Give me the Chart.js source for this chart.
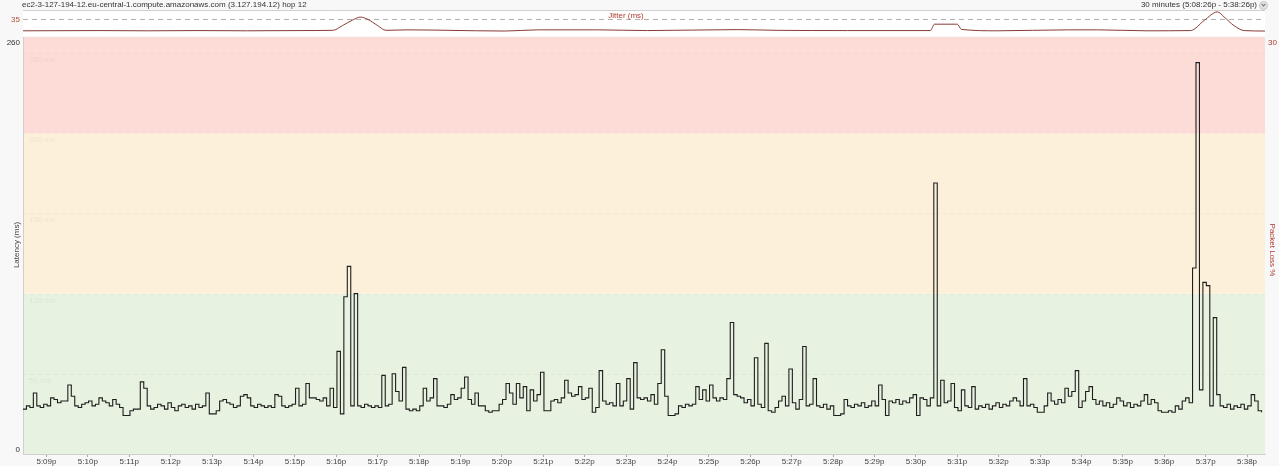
<!DOCTYPE html>
<html>
<head>
<meta charset="utf-8">
<script src="https://cdn.jsdelivr.net/npm/chart.js@4.4.1/dist/chart.umd.min.js"></script>
<style>
    body {
        margin: 0;
        background: #f8f8f8;
        font-family: "Liberation Sans", Arial, sans-serif;
    }
    #wrap {
        position: relative;
        width: 1279px;
        height: 466px;
    }
    #mainChart {
        position: absolute;
        left: 0;
        top: 0;
    }
    #jitterChart {
        position: absolute;
        left: 0;
        top: 10px;
    }
    .txt {
        position: absolute;
        font-size: 8px;
        color: #333;
        white-space: nowrap;
    }
    #hostTitle {
        left: 22px;
        top: 0px;
    }
    #rangeTitle {
        right: 22px;
        top: 0px;
    }
    #jitterTitle {
        left: 626px;
        top: 11px;
        transform: translateX(-50%);
        color: #b23a30;
    }
    #rangeIcon {
        position: absolute;
        left: 1259px;
        top: 1px;
        width: 7px;
        height: 7px;
        border-radius: 50%;
        background: #e2e2e2;
        border: 1px solid #c8c8c8;
    }
    #rangeIcon:after {
        content: "";
        position: absolute;
        left: 2px;
        top: 1px;
        width: 2px;
        height: 2px;
        border-right: 1px solid #666;
        border-bottom: 1px solid #666;
        transform: rotate(45deg);
    }
</style>
</head>
<body>
<div id="wrap">
    <canvas id="mainChart" width="1279" height="466"></canvas>
    <canvas id="jitterChart" width="1279" height="26"></canvas>
    <div class="txt" id="hostTitle">ec2-3-127-194-12.eu-central-1.compute.amazonaws.com (3.127.194.12) hop 12</div>
    <div class="txt" id="rangeTitle">30 minutes (5:08:26p - 5:38:26p)</div>
    <div id="rangeIcon"></div>
    <div class="txt" id="jitterTitle">Jitter (ms)</div>
</div>

<script>
// one latency sample every 5 seconds, 5:08:26p -> 5:38:26p
let sampleSeconds = 5;
let latencyMs = [
    28, 30, 29, 38, 30, 29, 31, 30, 35, 34, 32, 33,
    33, 43, 36, 30, 29, 31, 32, 33, 30, 31, 35, 33,
    32, 30, 34, 31, 29, 24, 24, 27, 28, 28, 45, 41,
    30, 28, 29, 31, 30, 28, 32, 29, 27, 30, 31, 29,
    30, 28, 31, 29, 30, 38, 25, 25, 27, 33, 34, 32,
    31, 29, 30, 36, 37, 35, 30, 29, 31, 30, 29, 30,
    29, 37, 36, 30, 29, 30, 31, 41, 30, 31, 44, 35,
    35, 34, 33, 35, 30, 41, 29, 64, 25, 98, 117, 30,
    100, 30, 29, 31, 30, 29, 30, 29, 49, 30, 31, 50,
    39, 33, 54, 28, 27, 28, 27, 30, 41, 33, 35, 47,
    30, 30, 29, 31, 37, 34, 35, 41, 48, 34, 31, 38,
    30, 30, 27, 26, 27, 27, 31, 34, 44, 38, 31, 44,
    35, 42, 27, 40, 33, 37, 51, 27, 27, 33, 34, 32,
    35, 46, 38, 36, 37, 42, 34, 35, 41, 26, 29, 52,
    33, 31, 32, 30, 44, 30, 33, 47, 28, 57, 35, 34,
    35, 33, 37, 31, 44, 65, 36, 24, 24, 25, 30, 29,
    31, 30, 31, 42, 34, 40, 33, 43, 35, 33, 35, 34,
    47, 82, 37, 36, 35, 32, 34, 30, 60, 31, 29, 69,
    27, 26, 29, 33, 36, 30, 53, 32, 28, 34, 67, 30,
    31, 47, 30, 29, 31, 28, 30, 24, 24, 25, 34, 30,
    29, 31, 30, 32, 29, 30, 33, 30, 43, 34, 24, 33,
    32, 34, 31, 33, 32, 35, 37, 24, 35, 34, 30, 35,
    169, 30, 46, 32, 33, 44, 29, 27, 40, 30, 29, 42,
    28, 30, 29, 31, 28, 30, 32, 29, 31, 30, 33, 35,
    33, 30, 47, 30, 31, 29, 26, 26, 30, 38, 33, 31,
    34, 32, 41, 36, 39, 52, 29, 33, 39, 42, 34, 31,
    33, 30, 32, 29, 31, 35, 33, 30, 32, 29, 31, 30,
    33, 37, 31, 34, 32, 27, 26, 26, 27, 26, 30, 28,
    33, 35, 32, 116, 244, 40, 107, 105, 30, 85, 37, 30,
    29, 31, 28, 30, 29, 31, 28, 30, 37, 33, 27, 26
];

// jitter curve, seconds from start and ms
let jitterSeconds = [0, 110, 180, 255, 325, 400, 449, 463, 478, 489, 500, 514, 526, 558, 616, 699, 746, 833, 905, 1036, 1093, 1195, 1315, 1321, 1354, 1360, 1412, 1514, 1557, 1629, 1692, 1712, 1731, 1741, 1755, 1770, 1800];
let jitterMs = [11, 11.5, 11, 11.5, 11, 11.5, 12, 22, 34, 40, 35, 22, 12, 13, 12, 10.5, 13, 13, 11.5, 13.5, 12, 11.5, 11.5, 25, 25, 14, 11, 13, 13, 11, 11.5, 33, 51, 40, 22, 11.5, 10.5];
let jitterMarker = 35;

let xTickLabels = ["5:09p", "5:10p", "5:11p", "5:12p", "5:13p", "5:14p", "5:15p", "5:16p", "5:17p", "5:18p",
    "5:19p", "5:20p", "5:21p", "5:22p", "5:23p", "5:24p", "5:25p", "5:26p", "5:27p", "5:28p",
    "5:29p", "5:30p", "5:31p", "5:32p", "5:33p", "5:34p", "5:35p", "5:36p", "5:37p", "5:38p"];
let firstTickSecond = 34;

let latencyMax = 260;
let lossMax = 30;
let bandLimits = [0, 100, 200, 260];
let bandColors = ["#e8f2e0", "#fdf0da", "#fddcd7"];
let gridValues = [50, 100, 150, 200, 250];
let gridLabels = ["50 ms", "100 ms", "150 ms", "200 ms", "250 ms"];

Chart.defaults.font.family = "'Liberation Sans', Arial, sans-serif";
Chart.defaults.font.size = 8;
Chart.defaults.animation = false;

let smallFont = "8px 'Liberation Sans', Arial, sans-serif";

function buildLatencyPoints() {
    let points = [];
    for (let i = 0; i < latencyMs.length; i++) {
        points.push({ x: i * sampleSeconds, y: latencyMs[i] });
    }
    return points;
}

function buildJitterPoints() {
    let points = [];
    for (let i = 0; i < jitterMs.length; i++) {
        points.push({ x: jitterSeconds[i], y: jitterMs[i] });
    }
    return points;
}

function buildTickValues() {
    let ticks = [];
    for (let i = 0; i < xTickLabels.length; i++) {
        ticks.push({ value: firstTickSecond + i * 60 });
    }
    return ticks;
}

function drawRotated(ctx, text, x, y, angle, color) {
    ctx.save();
    ctx.font = smallFont;
    ctx.textAlign = "center";
    ctx.textBaseline = "middle";
    ctx.fillStyle = color;
    ctx.translate(x, y);
    ctx.rotate(angle);
    ctx.fillText(text, 0, 0);
    ctx.restore();
}

let bandsPlugin = {
    id: "bands",
    beforeDraw: function(chart) {
        let ctx = chart.ctx;
        let area = chart.chartArea;
        let y = chart.scales.y;

        ctx.save();
        for (let i = 0; i < bandColors.length; i++) {
            let top = y.getPixelForValue(bandLimits[i + 1]);
            let bottom = y.getPixelForValue(bandLimits[i]);
            ctx.fillStyle = bandColors[i];
            ctx.fillRect(area.left, top, area.right - area.left, bottom - top);
        }

        ctx.setLineDash([4, 4]);
        ctx.strokeStyle = "rgba(0,0,0,0.035)";
        ctx.lineWidth = 1;
        ctx.fillStyle = "rgba(0,0,0,0.06)";
        ctx.font = smallFont;
        ctx.textBaseline = "top";
        for (let i = 0; i < gridValues.length; i++) {
            let py = Math.round(y.getPixelForValue(gridValues[i])) + 0.5;
            ctx.beginPath();
            ctx.moveTo(area.left, py);
            ctx.lineTo(area.right, py);
            ctx.stroke();
            ctx.fillText(gridLabels[i], area.left + 6, py + 2);
        }
        ctx.restore();
    },
    afterDraw: function(chart) {
        let ctx = chart.ctx;
        let area = chart.chartArea;
        let y = chart.scales.y;
        let y1 = chart.scales.y1;

        ctx.save();
        ctx.font = smallFont;
        ctx.textBaseline = "middle";
        ctx.textAlign = "right";
        ctx.fillStyle = "#333";
        ctx.fillText(String(latencyMax), area.left - 3, y.getPixelForValue(latencyMax) + 6);
        ctx.fillText("0", area.left - 3, y.getPixelForValue(0) - 4);
        ctx.textAlign = "left";
        ctx.fillStyle = "#b23a30";
        ctx.fillText(String(lossMax), area.right + 3, y1.getPixelForValue(lossMax) + 6);
        ctx.restore();

        drawRotated(ctx, "Latency (ms)", 17, 245, -Math.PI / 2, "#444");
        drawRotated(ctx, "Packet Loss %", 1272, 250, Math.PI / 2, "#b23a30");
    }
};

let panelPlugin = {
    id: "panel",
    beforeDraw: function(chart) {
        let ctx = chart.ctx;
        let area = chart.chartArea;
        ctx.save();
        ctx.fillStyle = "#ffffff";
        ctx.fillRect(area.left, area.top, area.right - area.left, area.bottom - area.top);
        ctx.strokeStyle = "#d0d0d0";
        ctx.lineWidth = 1;
        ctx.beginPath();
        ctx.moveTo(area.left, area.top + 0.5);
        ctx.lineTo(area.right, area.top + 0.5);
        ctx.stroke();
        ctx.restore();
    },
    afterDraw: function(chart) {
        let ctx = chart.ctx;
        let area = chart.chartArea;
        ctx.save();
        ctx.font = smallFont;
        ctx.textAlign = "right";
        ctx.textBaseline = "middle";
        ctx.fillStyle = "#b0503a";
        ctx.fillText(String(jitterMarker), area.left - 3, chart.scales.y.getPixelForValue(jitterMarker));
        ctx.restore();
    }
};

let mainChart = new Chart(document.getElementById("mainChart"), {
    type: "line",
    data: {
        datasets: [{
            label: "Latency (ms)",
            data: buildLatencyPoints(),
            borderColor: "#1e1e1e",
            borderWidth: 1.1,
            stepped: true,
            pointRadius: 0,
            fill: false
        }]
    },
    options: {
        responsive: false,
        layout: {
            padding: { top: 37, left: 0, right: 0, bottom: 0 }
        },
        plugins: {
            legend: { display: false },
            tooltip: { enabled: false }
        },
        scales: {
            x: {
                type: "linear",
                min: 0,
                max: 1800,
                afterBuildTicks: function(scale) {
                    scale.ticks = buildTickValues();
                },
                afterFit: function(scale) {
                    scale.height = 12;
                },
                ticks: {
                    autoSkip: false,
                    maxRotation: 0,
                    padding: 0,
                    color: "#444",
                    callback: function(value, index) {
                        return xTickLabels[index];
                    }
                },
                grid: {
                    display: true,
                    drawOnChartArea: false,
                    drawTicks: true,
                    tickLength: 3,
                    color: "#aaaaaa"
                },
                border: { display: true, color: "#cfcfcf" }
            },
            y: {
                position: "left",
                min: 0,
                max: latencyMax,
                afterFit: function(scale) {
                    scale.width = 23;
                },
                ticks: { display: false },
                grid: { display: false, drawTicks: false },
                border: { display: true, color: "#cfcfcf" }
            },
            y1: {
                position: "right",
                min: 0,
                max: lossMax,
                afterFit: function(scale) {
                    scale.width = 14;
                },
                ticks: { display: false },
                grid: { display: false, drawTicks: false },
                border: { display: false }
            }
        }
    },
    plugins: [bandsPlugin]
});

let jitterChart = new Chart(document.getElementById("jitterChart"), {
    type: "line",
    data: {
        datasets: [{
            label: "Jitter (ms)",
            data: buildJitterPoints(),
            borderColor: "#8a3b36",
            borderWidth: 1,
            cubicInterpolationMode: "monotone",
            pointRadius: 0,
            fill: false
        }, {
            label: "marker",
            data: [{ x: 0, y: jitterMarker }, { x: 1800, y: jitterMarker }],
            borderColor: "#9a9a9a",
            borderWidth: 0.8,
            borderDash: [5, 4],
            pointRadius: 0,
            fill: false
        }]
    },
    options: {
        responsive: false,
        layout: {
            padding: { top: 0, left: 0, right: 14, bottom: 0 }
        },
        plugins: {
            legend: { display: false },
            tooltip: { enabled: false }
        },
        scales: {
            x: {
                type: "linear",
                min: 0,
                max: 1800,
                display: false
            },
            y: {
                min: 0,
                max: 55,
                afterFit: function(scale) {
                    scale.width = 23;
                },
                ticks: { display: false },
                grid: { display: false, drawTicks: false },
                border: { display: false }
            }
        }
    },
    plugins: [panelPlugin]
});
</script>
</body>
</html>
